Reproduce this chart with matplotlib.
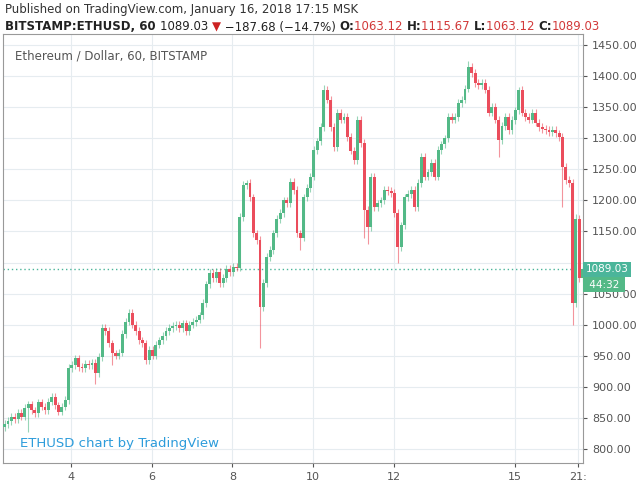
import matplotlib
matplotlib.use("Agg")
import matplotlib.pyplot as plt
from matplotlib.patches import Rectangle

# 2-hour closes
closes = [840,845,852,848,858,852,866,872,862,858,875,868,863,876,884,870,860,868,879,930,
          935,946,932,930,937,935,938,922,948,995,990,970,954,950,955,985,1005,1019,1000,990,
          975,970,943,960,950,968,975,982,990,995,998,1000,995,1002,990,1000,1004,1008,1015,1035,
          1065,1083,1075,1085,1067,1075,1090,1085,1093,1092,1173,1225,1228,1205,1147,1136,1028,1067,1109,1120,
          1147,1170,1180,1200,1195,1230,1217,1147,1140,1205,1220,1238,1281,1295,1318,1378,1362,1318,1286,1341,
          1330,1334,1302,1280,1265,1329,1292,1185,1157,1238,1189,1195,1200,1217,1215,1212,1180,1125,1160,1205,
          1210,1217,1189,1228,1270,1238,1245,1260,1238,1281,1290,1300,1334,1330,1334,1357,1362,1380,1415,1405,
          1389,1385,1389,1378,1341,1350,1330,1297,1320,1334,1313,1329,1345,1378,1341,1334,1330,1341,1325,1318,
          1315,1313,1310,1313,1308,1302,1254,1233,1228,1035,1170,1075,1089]
first_open = 835
spike_lows = {7: 828, 27: 905, 32: 935, 76: 962, 88: 1120, 107: 1140, 108: 1130, 117: 1100, 147: 1270, 169: 1000, 166: 1190}
spike_highs = {38: 1025, 72: 1232, 95: 1385, 138: 1425, 153: 1382, 170: 1178}
xtick_labels = ["4", "6", "8", "10", "12", "15", "21:"]
xtick_pos = [40.5, 88.5, 136.5, 184.5, 232.5, 304.5, 342.5]
yticks = list(range(800, 1451, 50))
last_price = 1089.03

UP, DOWN = "#53b987", "#eb4d5c"
fig = plt.figure(figsize=(6.4, 4.87), dpi=100, facecolor="white")
ax = fig.add_axes([3/640, 1-463/487, 580/640, (463-34)/487])
ax.set_facecolor("white")
opens = [first_open] + closes[:-1]
for i, (o, c) in enumerate(zip(opens, closes)):
    x = 2*i + 1
    col = UP if c >= o else DOWN
    hi = spike_highs.get(i, max(o, c) + 6)
    lo = spike_lows.get(i, min(o, c) - 6)
    ax.vlines(x, lo, hi, color=col, lw=0.8, alpha=0.6, zorder=2)
    ax.add_patch(Rectangle((x-0.85, min(o, c)), 1.7, max(abs(c-o), 1), color=col, zorder=3, lw=0))
ax.set_xlim(0, 580/1.68)
ax.set_ylim(800 - (463-449)/0.6215, 1450 + (45-34)/0.6215)
ax.set_xticks(xtick_pos)
ax.set_xticklabels(xtick_labels)
ax.set_yticks(yticks)
ax.set_yticklabels(["" if v == 1100 else f"{v:.2f}" for v in yticks])
ax.yaxis.tick_right()
ax.grid(True, color="#e6ecf0", lw=0.8)
ax.set_axisbelow(True)
ax.tick_params(labelsize=8, colors="#555555", length=3)
for s in ax.spines.values():
    s.set_color("#999999"); s.set_linewidth(0.8)
ax.axhline(last_price, color="#4bb59a", ls=(0, (1, 2)), lw=1, zorder=1)
ax.text(1.005, last_price, f"{last_price:.2f}", transform=ax.get_yaxis_transform(), va="center", ha="left",
        fontsize=7.5, color="white", bbox=dict(boxstyle="square,pad=0.25", fc="#4bb59a", ec="none"))
ax.text(1.005, last_price - 25, " 44:32 ", transform=ax.get_yaxis_transform(), va="center", ha="left",
        fontsize=7.5, color="white", bbox=dict(boxstyle="square,pad=0.25", fc="#53b987", ec="none"))
ax.text(0.02, 0.965, "Ethereum / Dollar, 60, BITSTAMP", transform=ax.transAxes, fontsize=8.5, color="#555555", va="top")
ax.text(0.03, 0.045, "ETHUSD chart by TradingView", transform=ax.transAxes, fontsize=9.5, color="#2d9cdb", va="center")

fig.text(5/640, 1-10/487, "Published on TradingView.com, January 16, 2018 17:15 MSK", fontsize=8.5, color="#333333", va="center")
y2 = 1-27/487
parts = [("BITSTAMP:ETHUSD, 60 ", "#222222", "bold"), ("1089.03 ", "#222222", "normal"), ("\u25bc", "#cc2222", "normal"),
         (" \u2212187.68 (\u221214.7%) ", "#222222", "normal"), ("O:", "#222222", "bold"), ("1063.12 ", "#d23a3a", "normal"),
         ("H:", "#222222", "bold"), ("1115.67 ", "#d23a3a", "normal"), ("L:", "#222222", "bold"), ("1063.12 ", "#d23a3a", "normal"),
         ("C:", "#222222", "bold"), ("1089.03", "#d23a3a", "normal")]
fig.canvas.draw()
r = fig.canvas.get_renderer()
xpos = 5/640
for t, c, w in parts:
    tx = fig.text(xpos, y2, t, fontsize=8.5, color=c, weight=w, va="center")
    bb = tx.get_window_extent(r)
    xpos += bb.width/640
fig.savefig("out.png", dpi=100, facecolor="white")
